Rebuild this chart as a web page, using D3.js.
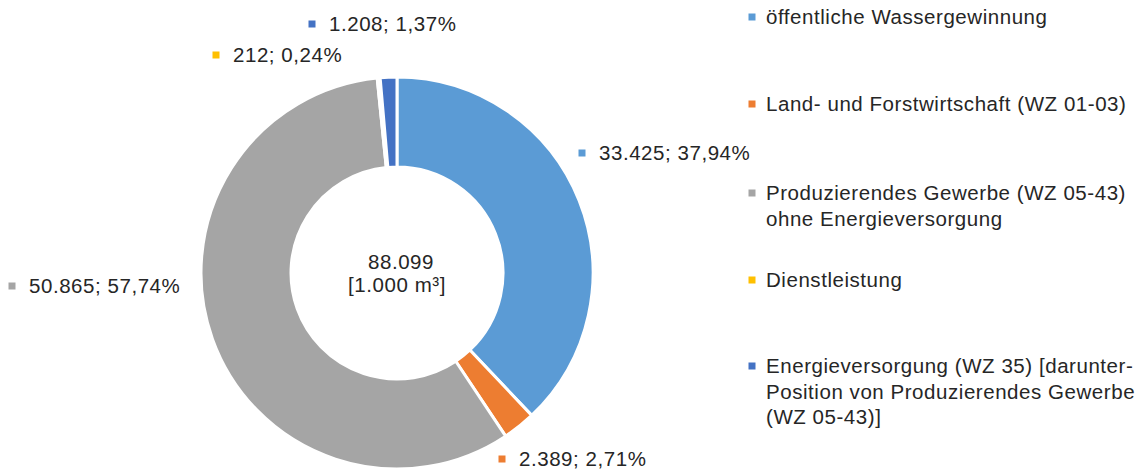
<!DOCTYPE html>
<html>
<head>
<meta charset="utf-8">
<script src="https://cdn.jsdelivr.net/npm/d3@7"></script>
<style>
  body { margin: 0; background: #fff; }
  text { font-family: "Liberation Sans", Arial, sans-serif; fill: #262626; letter-spacing: 0.55px; }
</style>
</head>
<body>
<script>
var w = 1143;
var h = 470;

// data
var categories = [
    "öffentliche Wassergewinnung",
    "Land- und Forstwirtschaft (WZ 01-03)",
    "Produzierendes Gewerbe (WZ 05-43) ohne Energieversorgung",
    "Dienstleistung",
    "Energieversorgung (WZ 35) [darunter-Position von Produzierendes Gewerbe (WZ 05-43)]"
];
var values = [33425, 2389, 50865, 212, 1208];
var valueLabels = ["33.425; 37,94%", "2.389; 2,71%", "50.865; 57,74%", "212; 0,24%", "1.208; 1,37%"];
var legendLines = [
    ["öffentliche Wassergewinnung"],
    ["Land- und Forstwirtschaft (WZ 01-03)"],
    ["Produzierendes Gewerbe (WZ 05-43)", "ohne Energieversorgung"],
    ["Dienstleistung"],
    ["Energieversorgung (WZ 35) [darunter-", "Position von Produzierendes Gewerbe", "(WZ 05-43)]"]
];
var totalLabel = ["88.099", "[1.000 m³]"];

// layout
var colors = ["#5b9bd5", "#ed7d31", "#a5a5a5", "#ffc000", "#4472c4"];
var labelPos = [[582, 153], [502, 459], [12, 286], [216, 55], [312, 24]];
var legendY = [17, 104, 193, 280, 366];
var cx = 397, cy = 273, outerR = 196, innerR = 106;
var fs = "20.5px";

var svg = d3.select("body").append("svg").attr("width", w).attr("height", h);

var color = d3.scaleOrdinal().domain(categories).range(colors);

var pie = d3.pie().sort(null).value(function (d) { return d.value; });
var arc = d3.arc().innerRadius(innerR).outerRadius(outerR);

var data = categories.map(function (c, i) {
    return { name: c, value: values[i], label: valueLabels[i] };
});

var g = svg.append("g").attr("transform", "translate(" + cx + "," + cy + ")");

g.selectAll("path")
    .data(pie(data))
    .enter()
    .append("path")
    .attr("d", arc)
    .attr("fill", function (d) { return color(d.data.name); })
    .attr("stroke", "#fff")
    .attr("stroke-width", 3)
    .attr("stroke-linejoin", "round");

// center total
g.selectAll(".total")
    .data(totalLabel)
    .enter()
    .append("text")
    .attr("class", "total")
    .attr("text-anchor", "middle")
    .attr("x", function (d, i) { return i == 0 ? 4 : 0; })
    .attr("y", function (d, i) { return -11 + i * 23; })
    .attr("dy", "0.35em")
    .style("font-size", fs)
    .text(function (d) { return d; });

// data labels
var labels = svg.selectAll(".dlabel")
    .data(data)
    .enter()
    .append("g")
    .attr("class", "dlabel")
    .attr("transform", function (d, i) { return "translate(" + labelPos[i][0] + "," + labelPos[i][1] + ")"; });

labels.append("rect")
    .attr("x", -3.5).attr("y", -3.5)
    .attr("width", 7).attr("height", 7)
    .attr("fill", function (d) { return color(d.name); });

labels.append("text")
    .attr("x", 17)
    .attr("dy", "0.35em")
    .style("font-size", fs)
    .text(function (d) { return d.label; });

// legend
var legend = svg.selectAll(".legend")
    .data(categories)
    .enter()
    .append("g")
    .attr("class", "legend")
    .attr("transform", function (d, i) { return "translate(752," + legendY[i] + ")"; });

legend.append("rect")
    .attr("x", -3.5).attr("y", -3.5)
    .attr("width", 7).attr("height", 7)
    .attr("fill", function (d) { return color(d); });

legend.each(function (d, i) {
    d3.select(this).selectAll("text")
        .data(legendLines[i])
        .enter()
        .append("text")
        .attr("x", 14)
        .attr("y", function (l, j) { return j * 25.5; })
        .attr("dy", "0.35em")
        .style("font-size", fs)
        .text(function (l) { return l; });
});
</script>
</body>
</html>
